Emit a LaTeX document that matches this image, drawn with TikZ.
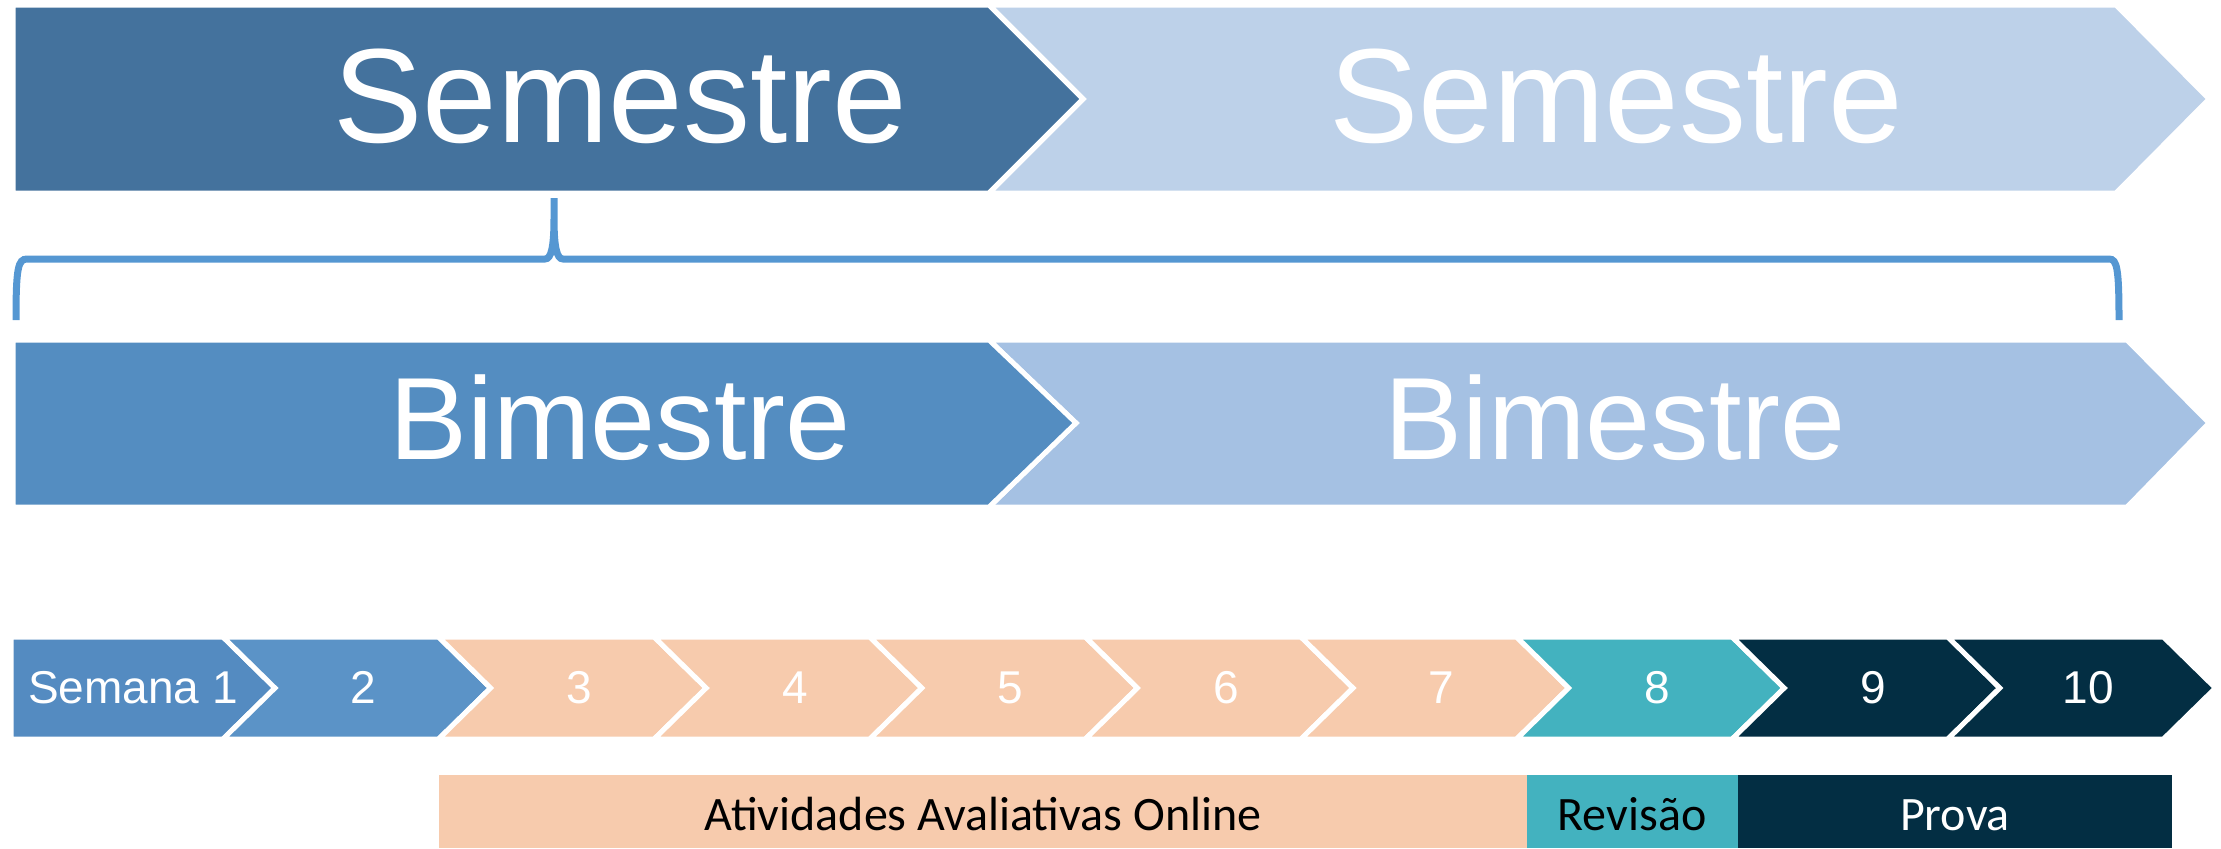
\documentclass[tikz,border=0pt]{standalone}
\usepackage{fontspec}
\setmainfont{Liberation Sans}
\newfontfamily\calibrifont{Carlito}
\definecolor{semD}{HTML}{44729D}
\definecolor{semL}{HTML}{BDD1E9}
\definecolor{bimD}{HTML}{548DC1}
\definecolor{bimL}{HTML}{A5C1E3}
\definecolor{wkA}{HTML}{548BC1}
\definecolor{wkB}{HTML}{5B93C7}
\definecolor{peach}{HTML}{F7CBAD}
\definecolor{teal}{HTML}{43B2BF}
\definecolor{navy}{HTML}{032E43}
\definecolor{brace}{HTML}{5597D2}
\begin{document}
\begin{tikzpicture}[x=0.5pt,y=-0.5pt,
  chev/.style={draw=white,line width=2.5pt,line join=miter},
  semtxt/.style={anchor=base,text=white,inner sep=0pt,font=\fontsize{67}{67}\selectfont},
  bimtxt/.style={anchor=base,text=white,inner sep=0pt,font=\fontsize{58.5}{58.5}\selectfont},
  wktxt/.style={anchor=base,text=white,inner sep=0pt,font=\fontsize{23}{23}\selectfont},
  bartxt/.style={anchor=base,inner sep=0pt,font=\calibrifont\fontsize{24}{24}\selectfont}]
\useasboundingbox (0,0) rectangle (2221,848);
% Semestre row
\filldraw[chev,fill=semL] (989,5) -- (2116,5) -- (2209,99) -- (2116,193) -- (989,193) -- (1083,99) -- cycle;
\filldraw[chev,fill=semD] (13,5) -- (989,5) -- (1083,99) -- (989,193) -- (13,193) -- cycle;
\node[semtxt] (sem1) at (620,142) {Semestre};
\node[semtxt] (sem2) at (1616,142) {Semestre};
% brace
\draw[brace,line width=3.5pt]
  (16,320) .. controls (16,268) and (18,259) .. (27,259) -- (545,259)
  .. controls (551,259) and (554,248) .. (554,218) -- (554,198)
  (554,218) .. controls (554,248) and (557,259) .. (563,259) -- (2109,259)
  .. controls (2117,259) and (2119,268) .. (2119,320);
% Bimestre row
\filldraw[chev,fill=bimL] (989,340) -- (2127,340) -- (2209,423) -- (2127,507) -- (989,507) -- (1076,423) -- cycle;
\filldraw[chev,fill=bimD] (13,340) -- (989,340) -- (1076,423) -- (989,507) -- (13,507) -- cycle;
\node[bimtxt] (bim1) at (620,459) {Bimestre};
\node[bimtxt] (bim2) at (1615,459) {Bimestre};
% weeks
\foreach \n/\col in {1/wkA,2/wkB,3/peach,4/peach,5/peach,6/peach,7/peach,8/teal,9/navy,10/navy}{
  \pgfmathsetmacro\c{223+(\n-1)*215.6}
  \pgfmathsetmacro\p{\c-215.6}
  \ifnum\n=1
    \filldraw[chev,fill=\col] (11,637) -- (\c,637) -- (\c+52,688) -- (\c,739) -- (11,739) -- cycle;
  \else
    \filldraw[chev,fill=\col] (\p,637) -- (\c,637) -- (\c+52,688) -- (\c,739) -- (\p,739) -- (\p+52,688) -- cycle;
  \fi
}
\node[wktxt] (w1) at (133,703) {Semana 1};
\foreach \n in {2,...,10}{
  \pgfmathsetmacro\tx{223+(\n-1)*215.6-75}
  \node[wktxt] (w\n) at (\tx,703) {\n};
}
% bottom bars
\fill[peach] (439,775) rectangle (1527,848);
\fill[teal] (1527,775) rectangle (1738,848);
\fill[navy] (1738,775) rectangle (2172,848);
\node[bartxt] (atv) at (983,830) {Atividades Avaliativas Online};
\node[bartxt] (rev) at (1632,830) {Revisão};
\node[bartxt,text=white] (prova) at (1955,830) {Prova};
\end{tikzpicture}
\end{document}
